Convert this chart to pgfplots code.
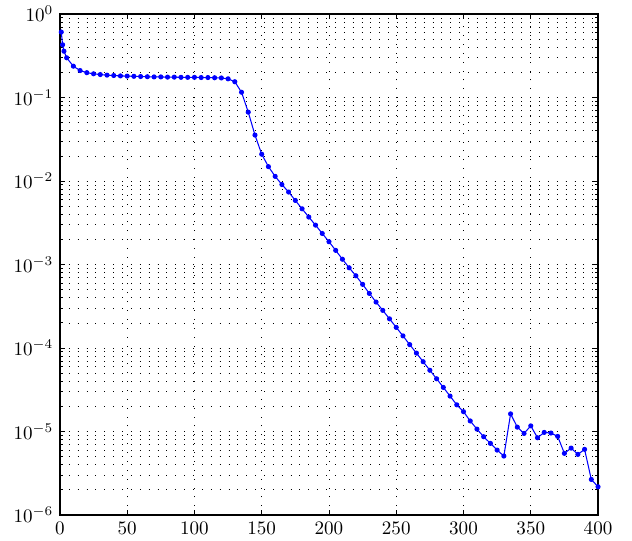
\documentclass[border=0pt]{standalone}
\usepackage{pgfplots}
\pgfplotsset{compat=1.18}

\pgfplotstableread{
x y
1 0.61
2 0.43
3 0.36
5 0.30
10 0.238
15 0.211
20 0.199
25 0.193
30 0.189
35 0.186
40 0.184
45 0.182
50 0.181
55 0.180
60 0.179
65 0.178
70 0.177
75 0.177
80 0.176
85 0.176
90 0.175
95 0.175
100 0.175
105 0.174
110 0.174
115 0.173
120 0.172
125 0.168
130 0.155
135 0.116
140 0.067
145 0.0356
150 0.021
155 0.0149
160 0.0114
165 0.0091
170 0.0074
175 0.00587
180 0.00466
185 0.00371
190 0.00297
195 0.00236
200 0.00188
205 0.00148
210 0.00116
215 0.000916
220 0.000735
225 0.00058
230 0.000452
235 0.000356
240 0.000283
245 0.000224
250 1.77e-4
255 1.40e-4
260 1.10e-4
265 8.71e-5
270 6.87e-5
275 5.42e-5
280 4.29e-5
285 3.38e-5
290 2.66e-5
295 2.09e-5
300 1.73e-5
305 1.34e-5
310 1.07e-5
315 8.67e-6
320 7.22e-6
325 6.0e-6
330 5.09e-6
335 1.63e-5
340 1.13e-5
345 9.5e-6
350 1.17e-5
355 8.43e-6
360 9.77e-6
365 9.6e-6
370 8.75e-6
375 5.48e-6
380 6.34e-6
385 5.33e-6
390 6.12e-6
395 2.67e-6
400 2.18e-6
}\residuals

\begin{document}
\begin{tikzpicture}
\begin{semilogyaxis}[
  scale only axis,
  width=282pt, height=262.5pt,
  xmin=0, xmax=400,
  ymin=1e-6, ymax=1,
  xtick={0,50,...,400},
  ytick={1e-6,1e-5,1e-4,1e-3,1e-2,1e-1,1},
  tick align=inside,
  tick pos=both,
  major tick length=2.6pt,
  minor tick length=1.4pt,
  axis line style={line width=0.7pt},
  every tick/.style={black, line width=0.5pt},
  xmajorgrids, ymajorgrids, yminorgrids,
  major grid style={black, line width=0.45pt, dash pattern=on 0.45pt off 4.2pt},
  minor grid style={black, line width=0.45pt, dash pattern=on 0.45pt off 4.2pt},
  clip=false,
]
\addplot[color={rgb,1:red,0;green,0;blue,1}, line width=0.55pt, mark=*, mark size=1.05pt,
  mark options={fill={rgb,1:red,0;green,0;blue,1}, draw={rgb,1:red,0;green,0;blue,1}}]
  table[x=x, y=y] {\residuals};
\end{semilogyaxis}
\path (current axis.south west) ++(-31.4pt,-12.6pt);
\path (current axis.north east) ++(17.8pt,6.8pt);
\end{tikzpicture}
\end{document}
